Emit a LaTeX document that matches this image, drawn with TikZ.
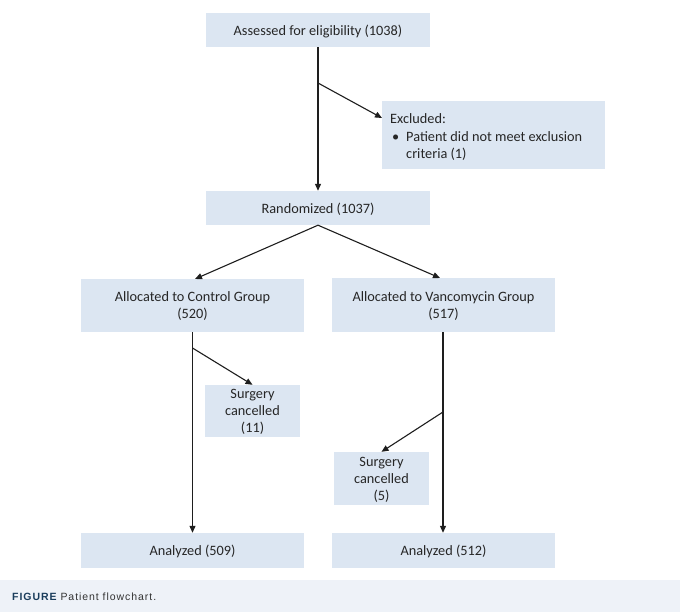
\documentclass[tikz,border=0pt]{standalone}
\usepackage{fontspec}
\setmainfont{Carlito}
\newfontfamily\capfont[LetterSpace=9]{Liberation Sans}
\usetikzlibrary{arrows.meta}
\definecolor{boxfill}{HTML}{DCE6F2}
\definecolor{capband}{HTML}{EEF2F8}
\definecolor{capblue}{HTML}{1A3D5C}
\definecolor{linec}{HTML}{1E1E1E}
\begin{document}
\begin{tikzpicture}[x=1pt,y=-1pt,
  box/.style={fill=boxfill, draw=none, inner sep=0pt, align=center, text depth=0pt,
    font=\fontsize{14.3}{17}\selectfont, text=black!85},
  conn/.style={draw=linec, line width=1.1pt, -{Triangle[length=7pt,width=6pt]}}]
\useasboundingbox (0,0) rectangle (680,612);
\fill[white] (0,0) rectangle (680,612);
\fill[capband] (0,580) rectangle (680,612);
\node[anchor=west, inner sep=0pt, font=\fontsize{10.5}{12}\capfont, text=capblue] (cap) at (12,597) {\textbf{FIGURE}\hspace{3pt}\textcolor{black!80}{Patient flowchart.}};

\node[box, minimum width=224pt, minimum height=34pt] (assess) at (318,30) {Assessed for eligibility (1038)};
\node[box, minimum width=223pt, minimum height=68pt] (excl) at (493.5,135) {};
\node[anchor=north west, inner sep=0pt, align=left, font=\fontsize{14.3}{17.5}\selectfont, text=black!85] (excltxt) at (390,113.5)
  {Excluded:\\\makebox[16pt][l]{\hspace{2pt}\textbullet}Patient did not meet exclusion\\\hspace{16pt}criteria (1)};
\node[box, minimum width=224pt, minimum height=34pt] (rand) at (318,208) {Randomized (1037)};
\node[box, minimum width=223pt, minimum height=53pt] (ctrl) at (192.5,305.5) {Allocated to Control Group\\(520)};
\node[box, minimum width=223pt, minimum height=54pt] (vanc) at (443.5,305) {Allocated to Vancomycin Group\\(517)};
\node[box, minimum width=95pt, minimum height=52pt] (s11) at (252.5,411) {Surgery\\cancelled\\(11)};
\node[box, minimum width=95pt, minimum height=53pt] (s5) at (381.5,478.5) {Surgery\\cancelled\\(5)};
\node[box, minimum width=223pt, minimum height=35pt] (an1) at (192.5,550.5) {Analyzed (509)};
\node[box, minimum width=223pt, minimum height=35pt] (an2) at (443.5,550.5) {Analyzed (512)};

\coordinate (b1) at (318,83);
\coordinate (e1) at (382,118);
\coordinate (b2) at (192.5,348);
\coordinate (b3) at (443,412);

\draw[conn] (assess.south) -- (rand.north);
\draw[conn] (b1) -- (e1);
\draw[conn] (rand.south) -- (195,279);
\draw[conn] (rand.south) -- (440,278);
\draw[conn] (ctrl.south) -- (an1.north);
\draw[conn] (vanc.south -| b3) -- (an2.north -| b3);
\draw[conn] (b2) -- (s11.north);
\draw[conn] (b3) -- (s5.north);
\end{tikzpicture}
\end{document}
